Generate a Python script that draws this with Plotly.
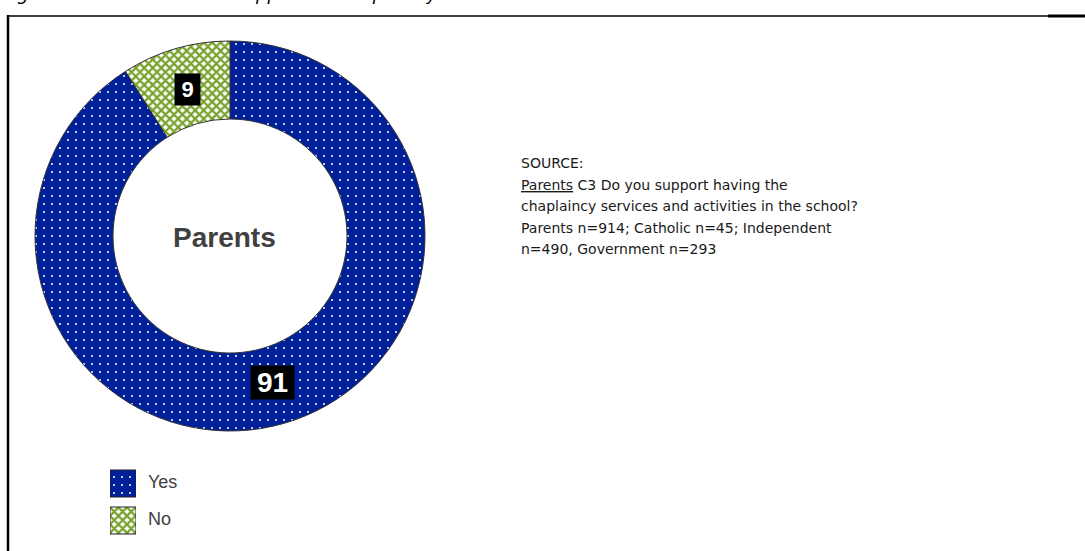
import math
import plotly.graph_objects as go

# ---- data -------------------------------------------------------------
categories = ["Yes", "No"]
values = [91, 9]
group_label = "Parents"
caption = "Figure 14: Parent level of support for chaplaincy"
source_lines = [
    "SOURCE:",
    "<u>Parents</u> C3 Do you support having the",
    "chaplaincy services and activities in the school?",
    "Parents n=914; Catholic n=45; Independent",
    "n=490, Government n=293",
]

# ---- styling ----------------------------------------------------------
W, H = 1085, 551
CX, CY, R = 230, 236, 195          # donut centre / outer radius (px)
HOLE = 0.6
NAVY = "#00209A"
GREEN = "#77A22A"
fill_bg = [NAVY, "white"]
fill_fg = ["white", GREEN]
fill_shape = [".", "x"]
fill_size = [8, 6]
fill_solidity = [0.05, 0.6]
label_font = [28, 22]
label_box = [(43, 33), (25, 31)]   # (width, height) of the black value boxes


def px(x):
    return x / W


def py(y):
    return 1 - y / H


fig = go.Figure()

fig.add_trace(go.Pie(
    labels=categories,
    values=values,
    hole=HOLE,
    sort=False,
    direction="clockwise",
    rotation=0,
    textinfo="none",
    hoverinfo="label+value",
    showlegend=False,
    domain=dict(x=[px(CX - R), px(CX + R)], y=[py(CY + R), py(CY - R)]),
    marker=dict(
        colors=fill_bg,
        line=dict(color="#333333", width=1),
        pattern=dict(shape=fill_shape, bgcolor=fill_bg, fgcolor=fill_fg,
                     size=fill_size, solidity=fill_solidity, fillmode="replace"),
    ),
))

# legend swatches drawn as patterned bars, one trace per category
for i, cat in enumerate(categories):
    fig.add_trace(go.Bar(
        y=[cat],
        x=[1],
        orientation="h",
        showlegend=False,
        hoverinfo="skip",
        marker=dict(
            color=fill_bg[i],
            line=dict(color="#222222", width=1),
            pattern=dict(shape=fill_shape[i], bgcolor=fill_bg[i], fgcolor=fill_fg[i],
                         size=fill_size[i], solidity=fill_solidity[i],
                         fillmode="replace"),
        ),
    ))

annotations = []

# value labels on the ring, placed at each slice's mid angle
total = sum(values)
r_mid = 153
cum = 0
for v, fs, (bw, bh) in zip(values, label_font, label_box):
    mid = (cum + v / 2) / total
    cum += v
    ang = 2 * math.pi * mid
    lx = CX + r_mid * math.sin(ang)
    ly = CY - r_mid * math.cos(ang)
    annotations.append(dict(
        x=px(lx), y=py(ly), xref="paper", yref="paper",
        text=f"<b>{v}</b>", showarrow=False,
        font=dict(family="Liberation Sans, Arial", size=fs, color="white"),
        bgcolor="black", borderpad=0, width=bw, height=bh,
        align="center", valign="middle",
        xanchor="center", yanchor="middle",
    ))

# centre label
annotations.append(dict(
    x=px(224), y=py(237), xref="paper", yref="paper",
    text=f"<b>{group_label}</b>", showarrow=False,
    font=dict(family="Liberation Sans, Arial", size=28, color="#404040"),
    xanchor="center", yanchor="middle",
))

# legend texts
for cat, ty in zip(categories, [482, 519]):
    annotations.append(dict(
        x=px(146), y=py(ty), xref="paper", yref="paper",
        text=cat, showarrow=False,
        font=dict(family="Liberation Sans, Arial", size=18, color="#404040"),
        xanchor="left", yanchor="middle",
    ))

# source note
for i, line in enumerate(source_lines):
    annotations.append(dict(
        x=px(519), y=py(163 + i * 21.5), xref="paper", yref="paper",
        text=line, showarrow=False, align="left",
        font=dict(family="DejaVu Sans, Verdana", size=14, color="#1a1a1a"),
        xanchor="left", yanchor="middle",
    ))

# caption above the frame
annotations.append(dict(
    x=px(0), y=py(-7), xref="paper", yref="paper",
    text=f"<i>{caption}</i>", showarrow=False,
    font=dict(family="DejaVu Sans, Verdana", size=18, color="black"),
    xanchor="left", yanchor="middle",
))

shapes = [
    dict(type="line", xref="paper", yref="paper", x0=px(7), x1=px(1048),
         y0=py(16), y1=py(16), line=dict(color="black", width=1.5)),
    dict(type="line", xref="paper", yref="paper", x0=px(1048), x1=px(1085),
         y0=py(16), y1=py(16), line=dict(color="black", width=3)),
    dict(type="line", xref="paper", yref="paper", x0=px(8), x1=px(8),
         y0=py(15), y1=py(551), line=dict(color="black", width=2.5)),
]

fig.update_layout(
    width=W, height=H,
    margin=dict(l=0, r=0, t=0, b=0),
    paper_bgcolor="white",
    plot_bgcolor="rgba(0,0,0,0)",
    barmode="overlay",
    bargap=0.27,
    xaxis=dict(domain=[px(110), px(136)], range=[0, 1], visible=False, fixedrange=True),
    yaxis=dict(domain=[py(539), py(465)], autorange="reversed", visible=False,
               fixedrange=True, categoryorder="array", categoryarray=categories),
    annotations=annotations,
    shapes=shapes,
)

fig.write_html("out.html")
